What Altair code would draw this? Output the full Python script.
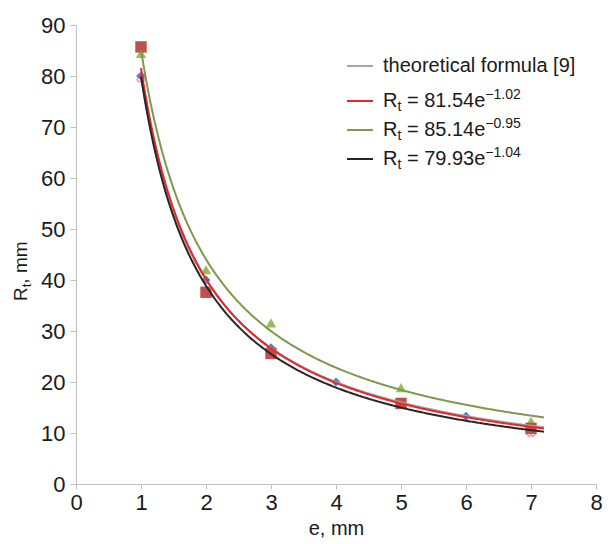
import altair as alt
import pandas as pd

FONT = "Liberation Sans"
TXT = "#1a1a1a"

# ---- data ----
e_red = [1, 2, 3, 5, 7]
r_red = [85.7, 37.6, 25.6, 15.8, 10.9]
e_green = [1, 2, 3, 5, 7]
r_green = [84.4, 42.0, 31.6, 18.9, 12.3]
e_blue = [1, 2, 3, 4, 5, 6, 7]
r_blue = [80.0, 40.0, 26.7, 20.0, 16.0, 13.3, 11.4]
e_pink = [1, 7]
r_pink = [79.6, 10.1]

# fitted power curves R = a * e^b (legend coefficients), theoretical curve
fit_names = ["theoretical formula [9]", "red", "green", "black"]
fit_a = [80.0, 81.54, 85.14, 79.93]
fit_b = [-1.0, -1.02, -0.95, -1.04]
fit_colors = ["#a6a6a6", "#e8262a", "#7d9a4a", "#262626"]
fit_coef_text = [None, ("81.54", "\u22121.02"), ("85.14", "\u22120.95"), ("79.93", "\u22121.04")]

x_ticks = list(range(0, 9))
y_ticks = list(range(0, 91, 10))

W, H = 520, 459
xs = alt.Scale(domain=[0, 8], nice=False)
ys = alt.Scale(domain=[0, 90], nice=False)

LF = 22
xaxis = alt.Axis(values=x_ticks, format="d", title="e, mm", grid=False, domainColor="#bfbfbf",
                 tickColor="#bfbfbf", tickSize=5, labelFontSize=LF, labelFont=FONT,
                 labelColor=TXT, labelPadding=3, titleFontSize=20, titleFont=FONT,
                 titleFontWeight="normal", titleColor=TXT, titlePadding=5, labelFlush=False)
yaxis = alt.Axis(values=y_ticks, format="d", title=None, grid=False, domainColor="#bfbfbf",
                 tickColor="#bfbfbf", tickSize=6, labelFontSize=LF, labelFont=FONT,
                 labelColor=TXT, labelPadding=5)


def pts(es, rs, shape, size, color, filled=True, angle=0):
    df = pd.DataFrame({"e": es, "R": rs})
    kw = dict(shape=shape, size=size, filled=filled, angle=angle, opacity=1)
    if filled:
        kw["color"] = color
    else:
        kw["stroke"] = color
        kw["strokeWidth"] = 1.5
    return alt.Chart(df).mark_point(**kw).encode(
        x=alt.X("e:Q", scale=xs, axis=xaxis),
        y=alt.Y("R:Q", scale=ys, axis=yaxis),
    )


def curve(a, b, color):
    return (
        alt.Chart(alt.sequence(1, 7.21, 0.02, as_="e"))
        .transform_calculate(R=f"{a}*pow(datum.e,{b})")
        .mark_line(color=color, strokeWidth=2)
        .encode(x=alt.X("e:Q", scale=xs), y=alt.Y("R:Q", scale=ys))
    )


one = alt.Data(values=[{"k": 0}])


def txt(s, x, y, size=20, angle=0, baseline="middle"):
    return alt.Chart(one).mark_text(
        text=s, fontSize=size, font=FONT, color=TXT, align="left",
        baseline=baseline, angle=angle
    ).encode(x=alt.value(x), y=alt.value(y))


def lseg(x1, x2, y, color):
    return alt.Chart(one).mark_rule(color=color, strokeWidth=2).encode(
        x=alt.value(x1), x2=alt.value(x2), y=alt.value(y)
    )


ADV = {"R": 722, "t": 278, " ": 278, "=": 584, ".": 278, "e": 556,
       "\u2212": 584, ",": 278, "m": 833}


def width(s, size):
    return sum(ADV.get(c, 556) for c in s) * size / 1000.0


layers = [
    pts(e_pink, r_pink, "cross", 70, "#e6a0c0", filled=False, angle=45),
    pts(e_blue, r_blue, "diamond", 80, "#4f81bd"),
    pts(e_green, r_green, "triangle-up", 110, "#9bbb59"),
    pts(e_red, r_red, "square", 130, "#c0504d"),
]
for a, b, c in zip(fit_a, fit_b, fit_colors):
    layers.append(curve(a, b, c))

# legend
row_y = [41, 76, 105, 134]
lx1, lx2, tx = 271, 297, 307
SP = width(" ", 20)
for i, (name, c, coef) in enumerate(zip(fit_names, fit_colors, fit_coef_text)):
    y = row_y[i]
    layers.append(lseg(lx1, lx2, y, c))
    if coef is None:
        layers.append(txt(name, tx, y))
    else:
        x = tx
        layers.append(txt("R", x, y))
        x += width("R", 20)
        layers.append(txt("t", x, y + 6, size=14))
        x += width("t", 14) + SP
        layers.append(txt("=", x, y))
        x += width("=", 20) + SP
        main = f"{coef[0]}e"
        layers.append(txt(main, x, y))
        x += width(main, 20)
        layers.append(txt(coef[1], x, y - 6, size=14))

# y-axis title  R_t, mm  (rotated)
bx, by = -49, 276
layers.append(txt("R", bx, by, size=19, angle=270, baseline="alphabetic"))
yy = by - width("R", 19)
layers.append(txt("t", bx + 4, yy, size=13, angle=270, baseline="alphabetic"))
yy -= width("t", 13)
layers.append(txt(",\u00a0mm", bx, yy, size=19, angle=270, baseline="alphabetic"))

chart = (
    alt.layer(*layers)
    .properties(width=W, height=H,
                padding={"left": 68, "top": 17, "right": 7, "bottom": 55},
                autosize=alt.AutoSizeParams(type="none"))
    .configure_view(stroke=None)
)

chart.save("out.html", embed_options={"renderer": "svg", "actions": False})
